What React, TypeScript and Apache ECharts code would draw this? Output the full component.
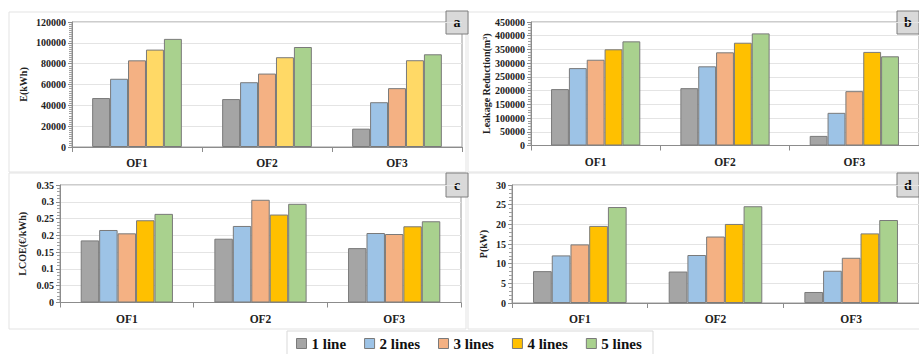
import React, { useEffect, useRef } from "react";
import * as echarts from "echarts";

const categories = ["OF1", "OF2", "OF3"];
const seriesNames = ["1 line", "2 lines", "3 lines", "4 lines", "5 lines"];

// Panel a: E (kWh)
const energyA = [
  [47000, 46000, 17600],
  [65500, 62200, 43000],
  [83200, 70500, 56500],
  [93500, 86200, 83300],
  [103800, 96000, 89000],
];
// Panel b: Leakage Reduction (m3)
const leakageB = [
  [205500, 209000, 35000],
  [282000, 288500, 119000],
  [312500, 339500, 198000],
  [350500, 374500, 341000],
  [379500, 408500, 325000],
];
// Panel c: LCOE (€/kWh)
const lcoeC = [
  [0.185, 0.19, 0.162],
  [0.216, 0.228, 0.207],
  [0.206, 0.306, 0.204],
  [0.245, 0.262, 0.227],
  [0.264, 0.294, 0.242],
];
// Panel d: P (kW)
const powerD = [
  [8.1, 8.0, 2.8],
  [12.1, 12.2, 8.2],
  [14.9, 16.9, 11.5],
  [19.6, 20.1, 17.7],
  [24.4, 24.6, 21.1],
];

const colorsMain = ["#A5A5A5", "#9DC3E6", "#F4B183", "#FFC000", "#A9D18E"];
const colorsA = ["#A5A5A5", "#9DC3E6", "#F4B183", "#FFD966", "#A9D18E"];

const FONT = "Liberation Serif";

export default function App() {
  const ref = useRef<HTMLDivElement>(null);

  useEffect(() => {
    if (!ref.current) return;
    const chart = echarts.init(ref.current, undefined, { renderer: "svg" });

    const grids = [
      { left: 72, top: 22, width: 390, height: 125 },
      { left: 531, top: 22, width: 390, height: 123.5 },
      { left: 60, top: 185, width: 401, height: 117.5 },
      { left: 512, top: 185, width: 408, height: 118 },
    ];

    const yDefs = [
      { name: "E(kWh)", max: 120000, interval: 20000, gap: 44, minor: 10 },
      { name: "Leakage Reduction(m³)", max: 450000, interval: 50000, gap: 40, minor: 5 },
      { name: "LCOE(€/kWh)", max: 0.35, interval: 0.05, gap: 33, minor: 5 },
      { name: "P(kW)", max: 30, interval: 5, gap: 24, minor: 5 },
    ];

    const datasets = [energyA, leakageB, lcoeC, powerD];

    const xAxis = grids.map((_, i) => ({
      type: "category",
      gridIndex: i,
      data: categories,
      axisLine: { lineStyle: { color: "#8c8c8c", width: 1 } },
      axisTick: { show: true, length: 5, lineStyle: { color: "#8c8c8c" } },
      axisLabel: {
        color: "#222",
        fontFamily: FONT,
        fontWeight: "bold",
        fontSize: 11.5,
        margin: 10,
      },
    }));

    const yAxis = yDefs.map((d, i) => ({
      type: "value",
      gridIndex: i,
      min: 0,
      max: d.max,
      interval: d.interval,
      name: d.name,
      nameLocation: "middle",
      nameGap: d.gap,
      nameTextStyle: {
        color: "#222",
        fontFamily: FONT,
        fontWeight: "bold",
        fontSize: 10,
      },
      axisLine: { show: true, lineStyle: { color: "#8c8c8c", width: 1 } },
      axisTick: { show: true, length: 4, lineStyle: { color: "#8c8c8c" } },
      minorTick: { show: true, splitNumber: d.minor, length: 3, lineStyle: { color: "#a0a0a0" } },
      axisLabel: {
        color: "#222",
        fontFamily: FONT,
        fontWeight: "bold",
        fontSize: 10,
        margin: 6,
        formatter: (v: number) => String(Math.round(v * 1000) / 1000),
      },
      splitLine: { show: true, lineStyle: { color: "#e4e4e4", width: 1 } },
    }));

    const series: any[] = [];
    datasets.forEach((data, gi) => {
      const colors = gi === 0 ? colorsA : colorsMain;
      seriesNames.forEach((name, si) => {
        series.push({
          type: "bar",
          name,
          xAxisIndex: gi,
          yAxisIndex: gi,
          data: data[si],
          barGap: "0%",
          barCategoryGap: "31%",
          itemStyle: {
            color: colors[si],
            borderColor: "#7a7a7a",
            borderWidth: 1,
          },
        });
      });
    });

    const panelRects = [
      [9, 12, 457, 160],
      [468, 12, 460, 160],
      [9, 173, 457, 156],
      [468, 173, 460, 156],
    ];

    const boxes = [
      { label: "a", x: 446, y: 11, h: 23 },
      { label: "b", x: 897, y: 11, h: 23 },
      { label: "c", x: 446, y: 173, h: 24 },
      { label: "d", x: 897, y: 173, h: 24 },
    ];

    const graphic: any[] = [];
    panelRects.forEach((r) => {
      graphic.push({
        type: "rect",
        z: -10,
        silent: true,
        shape: { x: r[0], y: r[1], width: r[2], height: r[3] },
        style: { fill: "#ffffff", stroke: "#e3e3e3", lineWidth: 1 },
      });
    });
    graphic.push({
      type: "rect",
      z: -10,
      silent: true,
      shape: { x: 287, y: 331, width: 366, height: 30 },
      style: { fill: "#ffffff", stroke: "#d9d9d9", lineWidth: 1 },
    });
    boxes.forEach((b) => {
      graphic.push({
        type: "group",
        z: 100,
        children: [
          {
            type: "rect",
            shape: { x: b.x, y: b.y, width: 22, height: b.h },
            style: { fill: "#d9d9d9", stroke: "#7f7f7f", lineWidth: 1 },
          },
          {
            type: "text",
            x: b.x + 11,
            y: b.y + b.h / 2,
            style: {
              text: b.label,
              fontFamily: FONT,
              fontWeight: "bold",
              fontSize: 14,
              fill: "#111",
              align: "center",
              verticalAlign: "middle",
            },
          },
        ],
      });
    });

    chart.setOption({
      animation: false,
      backgroundColor: "#ffffff",
      grid: grids.map((g) => ({
        ...g,
        show: true,
        borderColor: "#9a9a9a",
        borderWidth: 1,
        backgroundColor: "transparent",
        containLabel: false,
      })),
      xAxis,
      yAxis,
      legend: {
        left: 296,
        top: 336,
        padding: 0,
        itemWidth: 10,
        itemHeight: 10,
        itemGap: 18,
        icon: "rect",
        textStyle: {
          fontFamily: FONT,
          fontWeight: "bold",
          fontSize: 15,
          color: "#111",
        },
        data: seriesNames.map((n, i) => ({
          name: n,
          itemStyle: { color: colorsMain[i], borderColor: "#7a7a7a", borderWidth: 1 },
        })),
      },
      graphic,
      series,
    });

    return () => chart.dispose();
  }, []);

  return (
    <div
      ref={ref}
      style={{ position: "fixed", left: 0, top: 0, width: 919, height: 354 }}
    />
  );
}
